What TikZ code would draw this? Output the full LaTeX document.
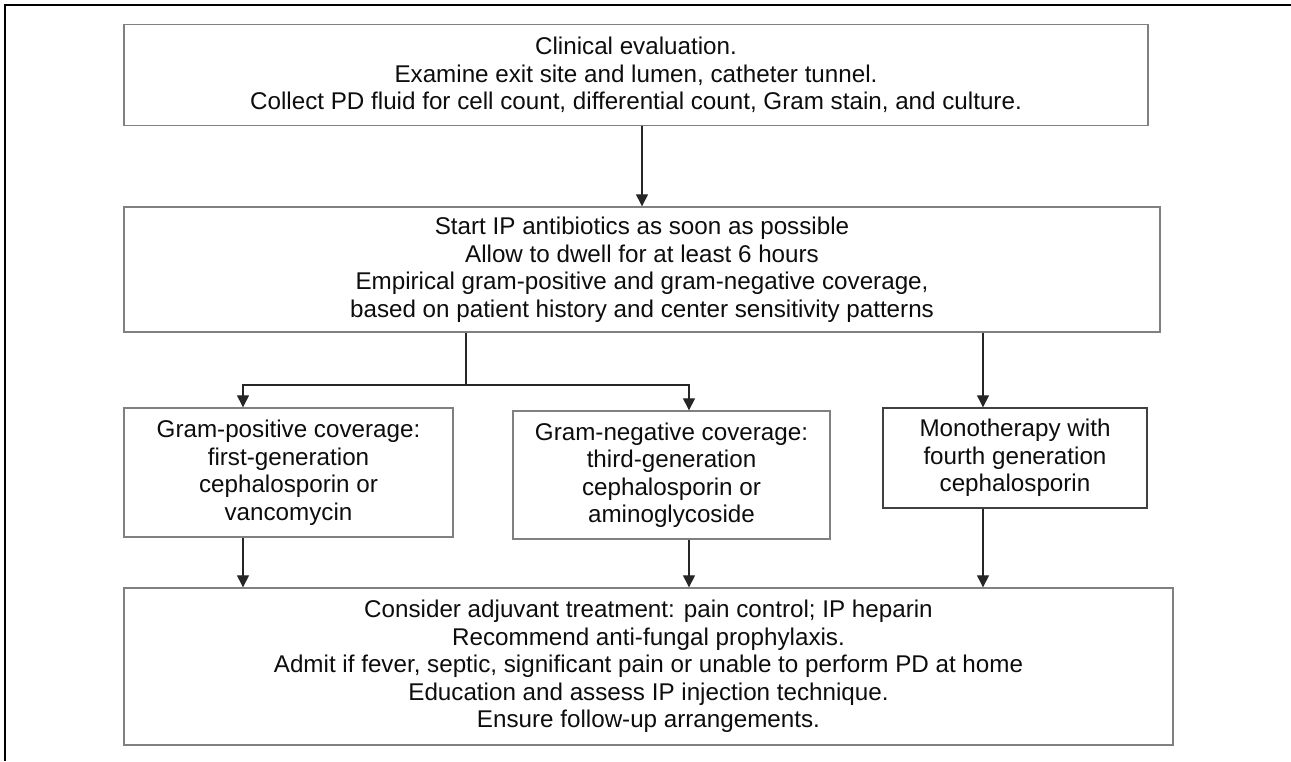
\documentclass[tikz,border=0pt]{standalone}
\usepackage{fontspec}
\setmainfont{Liberation Sans}
\usetikzlibrary{arrows.meta, positioning}

\begin{document}
\begin{tikzpicture}[x=1pt, y=-1pt,
        basic/.style  = {draw=black!50, line width=1.4pt, rectangle, align=center, inner sep=0pt,
                         text=black!95, font=\fontsize{24.2}{27.5}\selectfont},
        wide/.style   = {basic, minimum width=#1},
        small/.style  = {basic, minimum width=#1},
        link/.style   = {draw=black!85, line width=1.3pt},
        >={Triangle[length=12pt, width=12pt]}]

    \useasboundingbox (0,0) rectangle (1291,761);
    % frame round the figure
    \draw[line width=2.8pt] (5,761) -- (5,5) -- (1291,5);

    % full width boxes
    \node[wide=1024pt, minimum height=101pt] (clin) at (636,75)
        {Clinical evaluation.\\ Examine exit site and lumen, catheter tunnel.\\
         Collect PD fluid for cell count, differential count, Gram stain, and culture.};
    \node[wide=1036pt, minimum height=125pt] (startip) at (642,269.5)
        {Start IP antibiotics as soon as possible\\ Allow to dwell for at least 6 hours\\
         Empirical gram-positive and gram-negative coverage,\\ based on patient history and center sensitivity patterns};

    % the three regimens
    \node[small=329pt, minimum height=129pt] (gpos) at (288.5,472.5)
        {Gram-positive coverage:\\ first-generation\\ cephalosporin or\\ vancomycin};
    \node[small=317pt, minimum height=128pt] (gneg) at (671.5,475)
        {Gram-negative coverage:\\ third-generation\\ cephalosporin or\\ aminoglycoside};
    \node[small=264pt, minimum height=100pt, draw=black!75] (mono) at (1015,458)
        {Monotherapy with\\ fourth generation\\ cephalosporin};

    \node[wide=1049pt, minimum height=157pt] (adj) at (648.5,666.5)
        {Consider adjuvant treatment: pain control; IP heparin\\ Recommend anti-fungal prophylaxis.\\
         Admit if fever, septic, significant pain or unable to perform PD at home\\
         Education and assess IP injection technique.\\ Ensure follow-up arrangements.};

    % points where the arrows run
    \coordinate (split) at (466,385);
    \coordinate (pa) at (243,385);
    \coordinate (na) at (689,385);
    \coordinate (ma) at (983,385);

    \draw[link, ->] (startip.north |- clin.south) -- (startip.north);
    \draw[link] (split |- startip.south) -- (split);
    \draw[link, ->] (split) -- (pa) -- (pa |- gpos.north);
    \draw[link, ->] (split) -- (na) -- (na |- gneg.north);
    \draw[link, ->] (ma |- startip.south) -- (ma |- mono.north);

    % lines down to the last box
    \foreach \col/\reg in {pa/gpos, na/gneg, ma/mono}
        \draw[link, ->] (\col |- \reg.south) -- (\col |- adj.north);

\end{tikzpicture}
\end{document}
